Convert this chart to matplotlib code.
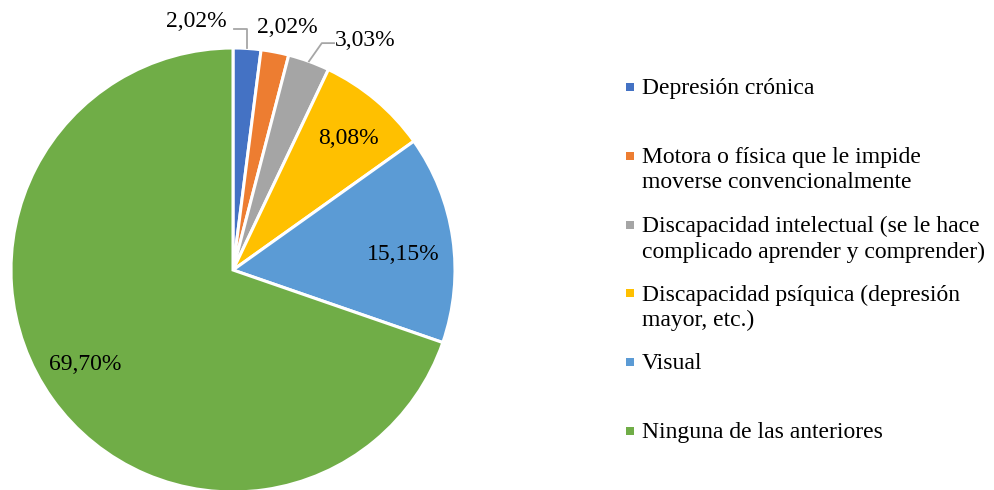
import matplotlib
matplotlib.use("Agg")
import matplotlib.pyplot as plt
import numpy as np
from matplotlib.patches import Rectangle

plt.rcParams['font.family'] = ['Liberation Serif', 'DejaVu Serif']

categories = ["Depresión crónica",
              "Motora o física que le impide\nmoverse convencionalmente",
              "Discapacidad intelectual (se le hace\ncomplicado aprender y comprender)",
              "Discapacidad psíquica (depresión\nmayor, etc.)",
              "Visual",
              "Ninguna de las anteriores"]
values = [2.02, 2.02, 3.03, 8.08, 15.15, 69.70]
labels = ["2,02%", "2,02%", "3,03%", "8,08%", "15,15%", "69,70%"]
colors = ["#4472C4", "#ED7D31", "#A5A5A5", "#FFC000", "#5B9BD5", "#70AD47"]

W, H = 995, 490
fig = plt.figure(figsize=(W / 100, H / 100), dpi=100)
cx, cy, R = 233, 270, 222
ax = fig.add_axes([(cx - R) / W, (H - cy - R) / H, 2 * R / W, 2 * R / H])
ax.axis('off')

wedges, _ = ax.pie(values, colors=colors, startangle=90, counterclock=False,
                   radius=1, wedgeprops=dict(edgecolor='white', linewidth=2.2))
ax.set_xlim(-1, 1)
ax.set_ylim(-1, 1)
ax.set_aspect('auto')

fs = 17
# inside labels for the larger slices: (radius fraction, angle offset in degrees)
inside = {3: (0.79, -1.3), 4: (0.77, -3.0), 5: (0.79, -2.8)}
for i, (r, off) in inside.items():
    w = wedges[i]
    ang = np.deg2rad((w.theta1 + w.theta2) / 2 + off)
    ax.text(r * np.cos(ang), r * np.sin(ang), labels[i], ha='center', va='center',
            fontsize=fs, color='#000000')

# outside labels for the small slices
lc = '#A6A6A6'
# blue
w = wedges[0]
a0 = np.deg2rad((w.theta1 + w.theta2) / 2)
px, py = np.cos(a0), np.sin(a0)
ax.plot([px, px, px - 0.06], [py, 1.086, 1.086], color=lc, lw=1.3, clip_on=False)
ax.text(-0.167, 1.118, labels[0], ha='center', va='center', fontsize=fs, clip_on=False)
# orange
ax.text(0.245, 1.092, labels[1], ha='center', va='center', fontsize=fs, clip_on=False)
# gray
w = wedges[2]
a2 = np.deg2rad((w.theta1 + w.theta2) / 2)
px, py = np.cos(a2), np.sin(a2)
ax.plot([px, 0.40, 0.455], [py, 1.022, 1.022], color=lc, lw=1.3, clip_on=False)
ax.text(0.595, 1.034, labels[2], ha='center', va='center', fontsize=fs, clip_on=False)

# legend, drawn manually
x_mark, x_text = 626, 642
y0, step = 87, 68.8
for i, (cat, col) in enumerate(zip(categories, colors)):
    yc = y0 + i * step
    s = 8
    fig.patches.append(Rectangle(((x_mark) / W, (H - yc - s / 2) / H), s / W, s / H,
                                 transform=fig.transFigure, facecolor=col, edgecolor='none'))
    fig.text(x_text / W, (H - yc + 9) / H, cat, ha='left', va='top', fontsize=fs,
             linespacing=1.28)

fig.savefig("out.png", dpi=100, facecolor='white')
